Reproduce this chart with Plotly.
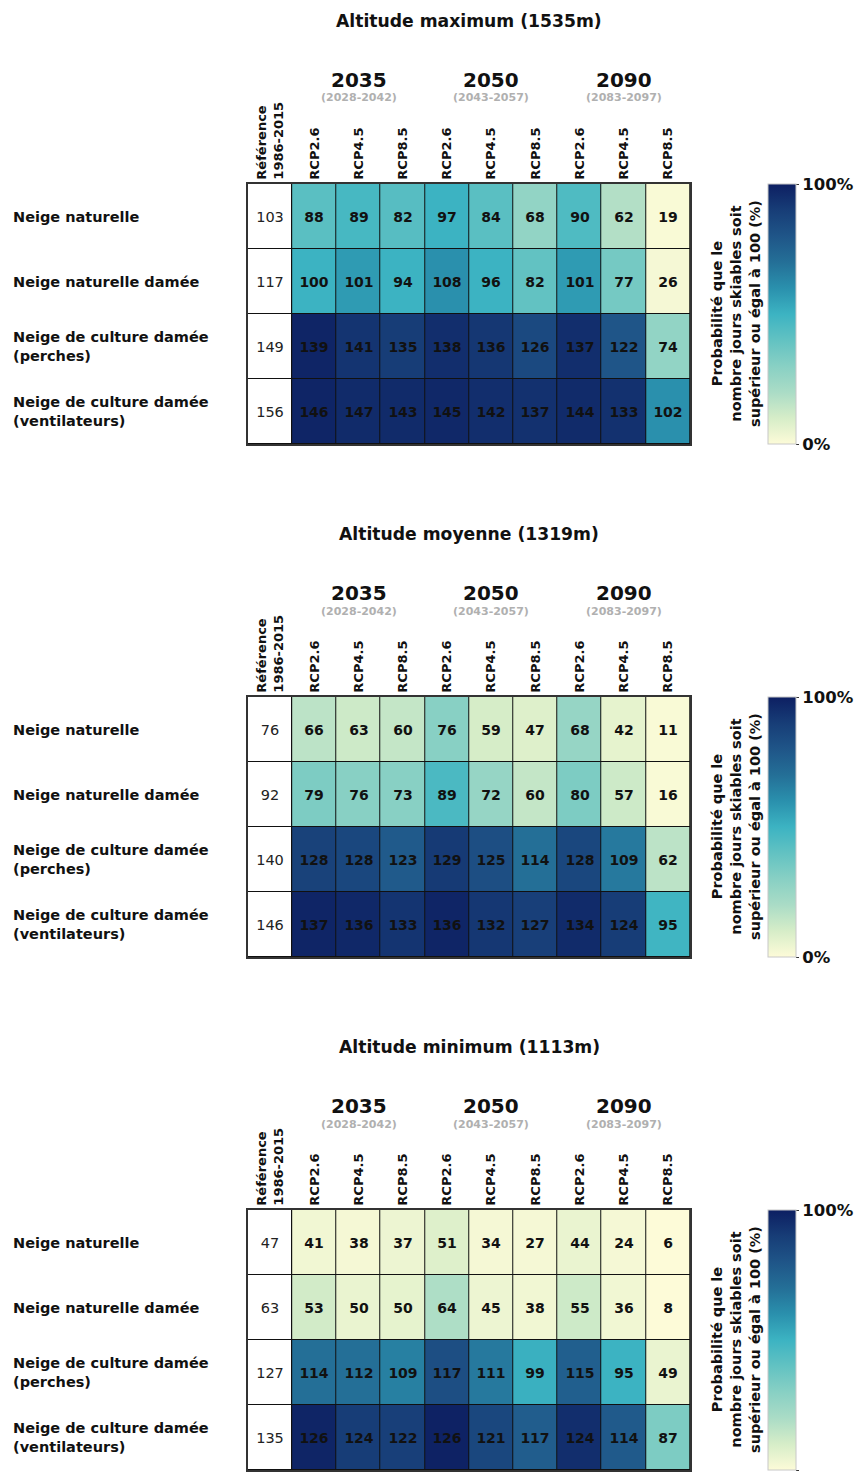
import plotly.graph_objects as go

# ---------------- data ----------------
panel_titles = ["Altitude maximum (1535m)", "Altitude moyenne (1319m)", "Altitude minimum (1113m)"]
row_labels = ["Neige naturelle", "Neige naturelle damée",
              "Neige de culture damée<br>(perches)", "Neige de culture damée<br>(ventilateurs)"]
col_labels = ["Référence|1986-2015", "RCP2.6", "RCP4.5", "RCP8.5",
              "RCP2.6", "RCP4.5", "RCP8.5", "RCP2.6", "RCP4.5", "RCP8.5"]
horizons = ["2035", "2050", "2090"]
periods = ["(2028-2042)", "(2043-2057)", "(2083-2097)"]
horizon_cols = [2, 5, 8]

ref_max = [103, 117, 149, 156]
ref_moy = [76, 92, 140, 146]
ref_min = [47, 63, 127, 135]

days_max = [[88, 89, 82, 97, 84, 68, 90, 62, 19],
            [100, 101, 94, 108, 96, 82, 101, 77, 26],
            [139, 141, 135, 138, 136, 126, 137, 122, 74],
            [146, 147, 143, 145, 142, 137, 144, 133, 102]]
days_moy = [[66, 63, 60, 76, 59, 47, 68, 42, 11],
            [79, 76, 73, 89, 72, 60, 80, 57, 16],
            [128, 128, 123, 129, 125, 114, 128, 109, 62],
            [137, 136, 133, 136, 132, 127, 134, 124, 95]]
days_min = [[41, 38, 37, 51, 34, 27, 44, 24, 6],
            [53, 50, 50, 64, 45, 38, 55, 36, 8],
            [114, 112, 109, 117, 111, 99, 115, 95, 49],
            [126, 124, 122, 126, 121, 117, 124, 114, 87]]

# probability (%) that skiable days >= 100
prob_max = [[42, 47, 43, 50, 42, 27, 45, 18, 1],
            [50, 57, 50, 60, 50, 40, 57, 35, 2],
            [98, 93, 90, 95, 92, 85, 95, 80, 27],
            [98, 96, 96, 97, 95, 94, 96, 94, 60]]
prob_moy = [[16, 12, 14, 30, 10, 8, 26, 6, 1],
            [33, 30, 30, 46, 26, 14, 33, 12, 1],
            [88, 86, 78, 91, 83, 70, 86, 67, 16],
            [98, 97, 93, 98, 92, 89, 96, 90, 49]]
prob_min = [[3, 2, 4, 8, 2, 2, 5, 2, 0],
            [11, 5, 6, 19, 4, 3, 12, 3, 0],
            [70, 70, 65, 83, 67, 51, 76, 50, 5],
            [98, 90, 89, 99, 86, 77, 95, 78, 33]]

refs = [ref_max, ref_moy, ref_min]
days = [days_max, days_moy, days_min]
probs = [prob_max, prob_moy, prob_min]

cb_title = "Probabilité que le<br>nombre jours skiables soit<br>supérieur ou égal à 100 (%)"

# ---------------- style ----------------
W, H = 859, 1475
FONT = "DejaVu Sans"
CSCALE = [[0.0, "#fdfbd8"], [0.1, "#d6edc8"], [0.2, "#aadcc6"], [0.3, "#88d0c4"],
          [0.4, "#62c2c2"], [0.5, "#3cb3c2"], [0.6, "#2a90ad"], [0.7, "#246f97"],
          [0.8, "#1f5588"], [0.9, "#173d77"], [1.0, "#0d1f62"]]


def fx(v):
    return v / W


def fy(v):
    return 1 - v / H


GL, GR, GT, GB = 248, 690, 184, 444
offsets = [0, 513, 1026]

fig = go.Figure()
annotations = []
layout_axes = {}

for i in range(3):
    off = offsets[i]
    sfx = "" if i == 0 else str(i + 1)
    xa, ya = "x" + sfx, "y" + sfx
    top, bot = GT + off, GB + off

    fig.add_trace(go.Heatmap(
        z=[[0] for _ in refs[i]], x0=0, dx=1, y0=0, dy=1,
        colorscale=[[0, "white"], [1, "white"]], showscale=False,
        text=[[v] for v in refs[i]], texttemplate="%{text}",
        textfont=dict(family=FONT, size=14.5, color="#222"),
        xgap=1, ygap=1, xaxis=xa, yaxis=ya, hoverinfo="skip"))

    fig.add_trace(go.Heatmap(
        z=probs[i], x0=1, dx=1, y0=0, dy=1, zmin=0, zmax=100,
        colorscale=CSCALE, text=days[i], texttemplate="<b>%{text}</b>",
        textfont=dict(family=FONT, size=14, color="#111"),
        xgap=1, ygap=1, xaxis=xa, yaxis=ya,
        colorbar=dict(x=fx(768), xanchor="left", xpad=0, ypad=0,
                      y=fy((top + bot) / 2), yanchor="middle",
                      len=(bot - top) / H, lenmode="fraction",
                      thickness=28, thicknessmode="pixels",
                      outlinewidth=1, outlinecolor="#c8c8c8",
                      tickmode="array", tickvals=[0, 100],
                      ticktext=["<b>0%</b>", "<b>100%</b>"],
                      ticks="outside", ticklen=3, tickcolor="#333",
                      tickfont=dict(family=FONT, size=16.5, color="#111"))))

    ticktext = []
    for lab in col_labels:
        parts = lab.split("|")
        ticktext.append("<br>".join("<b>%s</b>" % p for p in parts))

    layout_axes["xaxis" + sfx] = dict(
        domain=[fx(GL), fx(GR)], range=[-0.5, 9.5], anchor=ya, side="top",
        tickmode="array", tickvals=list(range(10)), ticktext=ticktext,
        tickangle=-90, ticks="", showgrid=False, zeroline=False,
        showline=True, mirror=True, linecolor="#333", linewidth=1.5,
        tickfont=dict(family=FONT, size=13, color="#111"), automargin=False)
    layout_axes["yaxis" + sfx] = dict(
        domain=[fy(bot), fy(top)], range=[3.5, -0.5], anchor=xa,
        showticklabels=False, ticks="", showgrid=False, zeroline=False,
        showline=True, mirror=True, linecolor="#333", linewidth=1.5, automargin=False)

    # panel title
    annotations.append(dict(text="<b>%s</b>" % panel_titles[i], xref="paper", yref="paper",
                            x=fx((GL + GR) / 2), y=fy(21 + off), xanchor="center", yanchor="middle",
                            showarrow=False, font=dict(family=FONT, size=17.2, color="#111")))
    # horizons
    for h, p, c in zip(horizons, periods, horizon_cols):
        annotations.append(dict(text="<b>%s</b>" % h, xref=xa, yref="paper",
                                x=c, y=fy(80 + off), xanchor="center", yanchor="middle",
                                showarrow=False, font=dict(family=FONT, size=20, color="#111")))
        annotations.append(dict(text="<b>%s</b>" % p, xref=xa, yref="paper",
                                x=c, y=fy(98 + off), xanchor="center", yanchor="middle",
                                showarrow=False, font=dict(family=FONT, size=11, color="#b0b0b0")))
    # row labels
    for r, lab in enumerate(row_labels):
        annotations.append(dict(text="<b>%s</b>" % lab.replace("<br>", "</b><br><b>"),
                                xref="paper", yref=ya, x=fx(11), y=r,
                                xanchor="left", yanchor="middle", align="left",
                                showarrow=False, font=dict(family=FONT, size=14.5, color="#111")))
    # colorbar title
    annotations.append(dict(text="<b>%s</b>" % cb_title.replace("<br>", "</b><br><b>"),
                            xref="paper", yref="paper", x=fx(736), y=fy((top + bot) / 2),
                            xanchor="center", yanchor="middle", align="center", textangle=-90,
                            showarrow=False, font=dict(family=FONT, size=14.5, color="#111")))

fig.update_layout(
    width=W, height=H, margin=dict(l=0, r=0, t=0, b=0),
    paper_bgcolor="white", plot_bgcolor="#111",
    showlegend=False, annotations=annotations, **layout_axes)

fig.write_html("out.html", config={"displayModeBar": False},
               post_script="document.body.style.margin='0';document.body.style.overflow='hidden';")
